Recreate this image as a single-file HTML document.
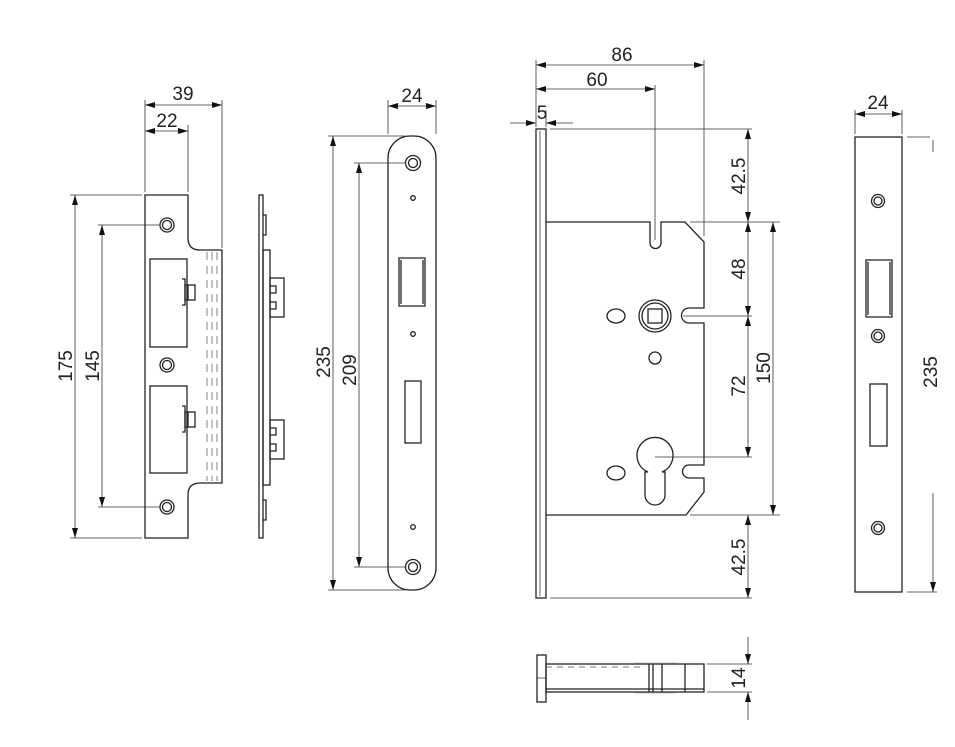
<!DOCTYPE html>
<html><head><meta charset="utf-8"><style>
html,body{margin:0;padding:0;background:#fff;}
svg{display:block;}
text{font-family:"Liberation Sans",sans-serif;font-size:19px;fill:#222;}
</style></head><body>
<svg width="955" height="747" viewBox="0 0 955 747" xmlns="http://www.w3.org/2000/svg">
<defs>
<marker id="a" viewBox="0 0 10 6" refX="10" refY="3" markerWidth="10" markerHeight="6" markerUnits="userSpaceOnUse" orient="auto-start-reverse"><path d="M0,0 L10,3 L0,6 z" fill="#111"/></marker>
</defs>
<g fill="none" stroke="#222" stroke-width="1.3">
<path d="M145,195 H188 V238 Q188,250 200,250 H222 V483 H200 Q188,483 188,495 V538 H145 Z"/>
<g stroke-dasharray="8,6" stroke-width="0.9" stroke="#777"><line x1="207" y1="252" x2="207" y2="481"/><line x1="212" y1="252" x2="212" y2="481"/><line x1="217" y1="252" x2="217" y2="481"/></g>
<circle cx="167" cy="225" r="7"/><circle cx="167" cy="225" r="4.5"/>
<circle cx="167" cy="365" r="7"/><circle cx="167" cy="365" r="4.5"/>
<circle cx="167" cy="507" r="7"/><circle cx="167" cy="507" r="4.5"/>
<rect x="150" y="259" width="37" height="88"/>
<rect x="150" y="386" width="37" height="87"/>
<path d="M182,279 H185 V305 H182"/><rect x="185" y="285" width="10" height="15"/><line x1="188" y1="285" x2="188" y2="300"/>
<path d="M182,406 H185 V432 H182"/><rect x="185" y="412" width="10" height="15"/><line x1="188" y1="412" x2="188" y2="427"/>
<rect x="259" y="195" width="4" height="343"/>
<path d="M263,215 H266 V235 H263"/><path d="M263,500 H266 V520 H263"/>
<rect x="263" y="250" width="7" height="235"/>
<rect x="270" y="278" width="14" height="39"/>
<path d="M270,286 H276 V293 H270 M270,302 H276 V309 H270"/>
<rect x="270" y="420" width="14" height="39"/>
<path d="M270,428 H276 V435 H270 M270,444 H276 V451 H270"/>
<g stroke-width="0.8" stroke="#333">
<line x1="145" y1="100" x2="145" y2="192"/><line x1="188" y1="125" x2="188" y2="192"/><line x1="222" y1="100" x2="222" y2="248"/>
<line x1="145" y1="105" x2="222" y2="105" marker-start="url(#a)" marker-end="url(#a)"/>
<line x1="145" y1="131" x2="188" y2="131" marker-start="url(#a)" marker-end="url(#a)"/>
<line x1="70" y1="195" x2="142" y2="195"/><line x1="70" y1="538" x2="142" y2="538"/>
<line x1="75" y1="195" x2="75" y2="538" marker-start="url(#a)" marker-end="url(#a)"/>
<line x1="98" y1="225" x2="160" y2="225"/><line x1="98" y1="507" x2="160" y2="507"/>
<line x1="102" y1="225" x2="102" y2="507" marker-start="url(#a)" marker-end="url(#a)"/>
</g>
<rect x="388" y="136" width="48" height="454" rx="22" ry="22"/>
<circle cx="413" cy="163" r="7.5"/><circle cx="413" cy="163" r="4.5"/>
<circle cx="413" cy="567" r="7.5"/><circle cx="413" cy="567" r="4.5"/>
<circle cx="413" cy="198" r="2.3"/><circle cx="413" cy="334" r="2.3"/><circle cx="413" cy="527" r="2.3"/>
<path d="M399,258 H425 V306 H399 Z M401,260 V304 M423,260 V304"/>
<rect x="405" y="381" width="16" height="62"/>
<g stroke-width="0.8" stroke="#333">
<line x1="388" y1="100" x2="388" y2="134"/><line x1="436" y1="100" x2="436" y2="134"/>
<line x1="388" y1="106" x2="436" y2="106" marker-start="url(#a)" marker-end="url(#a)"/>
<line x1="328" y1="136" x2="405" y2="136"/><line x1="328" y1="590" x2="405" y2="590"/>
<line x1="333" y1="136" x2="333" y2="590" marker-start="url(#a)" marker-end="url(#a)"/>
<line x1="354" y1="163" x2="406" y2="163"/><line x1="354" y1="567" x2="406" y2="567"/>
<line x1="359" y1="163" x2="359" y2="567" marker-start="url(#a)" marker-end="url(#a)"/>
</g>
<rect x="536" y="129" width="10" height="469"/>
<line x1="540" y1="131" x2="540" y2="596" stroke-width="0.7"/>
<path d="M546,222 H650 V243 A5.5,5.5 0 0 0 661,243 V222 H685 L704,242 V308 H689 A7.5,7.5 0 0 0 689,323 H704 V465 H689 A6.5,6.5 0 0 0 689,478 H704 V492 L686,515 H546"/>
<circle cx="655" cy="316" r="16"/><circle cx="655" cy="316" r="13"/>
<rect x="648" y="309" width="14" height="14"/>
<ellipse cx="616" cy="316" rx="9" ry="7"/>
<circle cx="655" cy="358" r="6"/>
<path d="M648,472 A18,18 0 1 1 662,472 L665,472 V495 A10,10 0 0 1 645,495 V472 Z"/>
<ellipse cx="616" cy="473" rx="9" ry="7"/>
<g stroke-width="0.8" stroke="#333">
<line x1="536" y1="60" x2="536" y2="127"/><line x1="546" y1="110" x2="546" y2="127"/>
<line x1="655" y1="85" x2="655" y2="240"/><line x1="704" y1="60" x2="704" y2="236"/>
<line x1="536" y1="65" x2="704" y2="65" marker-start="url(#a)" marker-end="url(#a)"/>
<line x1="536" y1="89" x2="655" y2="89" marker-start="url(#a)" marker-end="url(#a)"/>
<line x1="510" y1="123" x2="536" y2="123" marker-end="url(#a)"/><line x1="573" y1="123" x2="546" y2="123" marker-end="url(#a)"/>
<line x1="550" y1="129" x2="752" y2="129"/>
<line x1="690" y1="222" x2="780" y2="222"/>
<line x1="683" y1="316" x2="752" y2="316"/>
<line x1="655" y1="457" x2="752" y2="457"/>
<line x1="690" y1="515" x2="780" y2="515"/>
<line x1="550" y1="598" x2="752" y2="598"/>
<line x1="748" y1="129" x2="748" y2="222" marker-start="url(#a)" marker-end="url(#a)"/>
<line x1="748" y1="222" x2="748" y2="316" marker-start="url(#a)" marker-end="url(#a)"/>
<line x1="748" y1="316" x2="748" y2="457" marker-start="url(#a)" marker-end="url(#a)"/>
<line x1="748" y1="515" x2="748" y2="598" marker-start="url(#a)" marker-end="url(#a)"/>
<line x1="773" y1="222" x2="773" y2="515" marker-start="url(#a)" marker-end="url(#a)"/>
</g>
<rect x="537" y="655" width="9" height="47"/>
<line x1="537" y1="678" x2="546" y2="678" stroke-width="0.7"/>
<rect x="546" y="664" width="158" height="28"/>
<line x1="546" y1="689" x2="704" y2="689"/>
<line x1="649" y1="664" x2="649" y2="692"/><line x1="653" y1="664" x2="653" y2="692"/><line x1="662" y1="664" x2="662" y2="692"/><line x1="685" y1="664" x2="685" y2="692"/>
<line x1="546" y1="667" x2="640" y2="667" stroke-dasharray="6,5" stroke-width="0.9" stroke="#777"/>
<line x1="635" y1="663" x2="676" y2="663" stroke="#aaa" stroke-width="0.8"/><line x1="635" y1="693" x2="676" y2="693" stroke="#aaa" stroke-width="0.8"/>
<g stroke-width="0.8" stroke="#333">
<line x1="707" y1="664" x2="752" y2="664"/><line x1="707" y1="692" x2="752" y2="692"/>
<line x1="748" y1="637" x2="748" y2="664" marker-end="url(#a)"/>
<line x1="748" y1="720" x2="748" y2="692" marker-end="url(#a)"/>
</g>
<rect x="855" y="137" width="47" height="455"/>
<circle cx="878" cy="201" r="6.5"/><circle cx="878" cy="201" r="4"/>
<circle cx="878" cy="336" r="6.5"/><circle cx="878" cy="336" r="4"/>
<circle cx="878" cy="528" r="6.5"/><circle cx="878" cy="528" r="4"/>
<path d="M866,260 H892 V317 H866 Z M868,262 V315 M890,262 V315"/>
<rect x="870" y="384" width="17" height="62"/>
<g stroke-width="0.8" stroke="#333">
<line x1="855" y1="110" x2="855" y2="134"/><line x1="902" y1="110" x2="902" y2="134"/>
<line x1="855" y1="114" x2="902" y2="114" marker-start="url(#a)" marker-end="url(#a)"/>
<line x1="907" y1="137" x2="930" y2="137"/><line x1="907" y1="592" x2="937" y2="592"/>
<line x1="933" y1="140" x2="933" y2="152"/>
<line x1="933" y1="493" x2="933" y2="592" marker-end="url(#a)"/>
</g>
</g>
<text x="183" y="100" text-anchor="middle">39</text>
<text x="167" y="127" text-anchor="middle">22</text>
<text transform="translate(72,366) rotate(-90)" text-anchor="middle">175</text>
<text transform="translate(99,366) rotate(-90)" text-anchor="middle">145</text>
<text x="412" y="102" text-anchor="middle">24</text>
<text transform="translate(330,362) rotate(-90)" text-anchor="middle">235</text>
<text transform="translate(356,370) rotate(-90)" text-anchor="middle">209</text>
<text x="622" y="61" text-anchor="middle">86</text>
<text x="597" y="86" text-anchor="middle">60</text>
<text x="542" y="119" text-anchor="middle">5</text>
<text transform="translate(745,176) rotate(-90)" text-anchor="middle">42.5</text>
<text transform="translate(745,269) rotate(-90)" text-anchor="middle">48</text>
<text transform="translate(745,386) rotate(-90)" text-anchor="middle">72</text>
<text transform="translate(770,368) rotate(-90)" text-anchor="middle">150</text>
<text transform="translate(745,557) rotate(-90)" text-anchor="middle">42.5</text>
<text transform="translate(745,678) rotate(-90)" text-anchor="middle">14</text>
<text x="878" y="109" text-anchor="middle">24</text>
<text transform="translate(937,372) rotate(-90)" text-anchor="middle">235</text>
</svg>
</body></html>
